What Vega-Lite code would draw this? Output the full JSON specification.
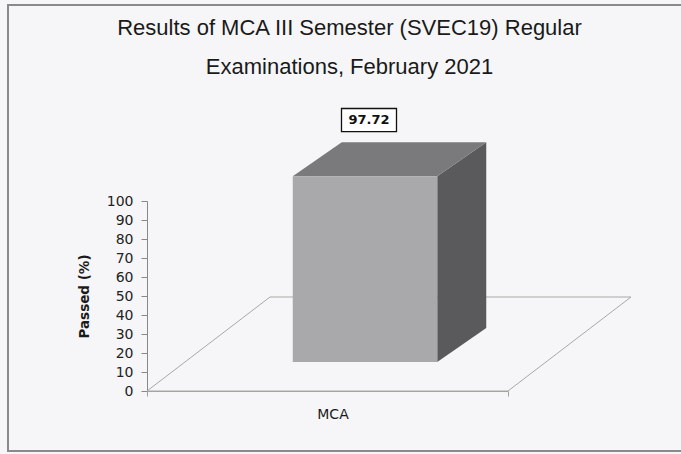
{
  "$schema": "https://vega.github.io/schema/vega-lite/v6.json",
  "width": 361,
  "height": 190,
  "autosize": {"type": "none"},
  "padding": {"left": 147, "top": 201, "right": 173, "bottom": 63},
  "background": "#f6f6f8",
  "config": {
    "view": {"stroke": null},
    "font": "Liberation Sans",
    "axisY": {
      "tickCount": 10,
      "labelOverlap": false,
      "grid": false,
      "labelFont": "DejaVu Sans",
      "labelFontSize": 14,
      "labelColor": "#222",
      "labelPadding": 8,
      "tickSize": 6,
      "tickColor": "#888",
      "domainColor": "#888",
      "titleFont": "DejaVu Sans",
      "titleFontSize": 13.5,
      "titleFontWeight": "bold",
      "titleColor": "#1a1a1a",
      "titlePadding": 15
    }
  },
  "title": {
    "text": ["Results of MCA III Semester (SVEC19) Regular", "Examinations, February 2021"],
    "font": "Liberation Sans",
    "fontSize": 22,
    "fontWeight": "normal",
    "color": "#1a1a1a",
    "lineHeight": 39,
    "anchor": "middle",
    "frame": "group",
    "dx": 22,
    "dy": 82
  },
  "data": {"values": [{"Program": "MCA", "Passed": 97.72}]},
  "encoding": {
    "x": {
      "field": "Program",
      "type": "nominal",
      "scale": {"paddingInner": 0, "paddingOuter": 0},
      "axis": {
        "title": null,
        "labelAngle": 0,
        "labelFont": "DejaVu Sans",
        "labelFontSize": 14,
        "labelColor": "#1a1a1a",
        "labelPadding": 11,
        "labelOffset": 5,
        "domainColor": "#a0a0a0",
        "tickColor": "#a0a0a0",
        "tickSize": 5,
        "tickBand": "extent"
      }
    }
  },
  "layer": [
    {
      "mark": {
        "type": "point",
        "shape": "M-3.195,-3.86 L3.585,-3.86 L3.585,0.6 L-3.195,0.6 Z",
        "size": 40000,
        "filled": false,
        "stroke": "#8a8a8a",
        "strokeWidth": 2,
        "opacity": 1
      },
      "encoding": {"y": {"datum": 0, "type": "quantitative"}}
    },
    {
      "mark": {
        "type": "point",
        "shape": "M-1.805,0 L1.805,0 L3.035,-0.94 L-0.575,-0.94 Z",
        "size": 40000,
        "filled": false,
        "stroke": "#a8a8a8",
        "strokeWidth": 1,
        "opacity": 1
      },
      "encoding": {"y": {"datum": 0, "type": "quantitative"}}
    },
    {
      "mark": {
        "type": "point",
        "shape": "M0.7225,0 L1.2125,-0.34 L1.2125,1.517 L0.7225,1.857 Z",
        "size": 40000,
        "filled": true,
        "fill": "#5a5a5c",
        "strokeWidth": 0,
        "opacity": 1,
        "xOffset": 37.5,
        "yOffset": -29
      },
      "encoding": {"y": {"field": "Passed", "type": "quantitative"}}
    },
    {
      "mark": {
        "type": "point",
        "shape": "M-0.7225,0 L0.7225,0 L1.2125,-0.34 L-0.2325,-0.34 Z",
        "size": 40000,
        "filled": true,
        "fill": "#7a7a7c",
        "strokeWidth": 0,
        "opacity": 1,
        "xOffset": 37.5,
        "yOffset": -29
      },
      "encoding": {"y": {"field": "Passed", "type": "quantitative"}}
    },
    {
      "mark": {
        "type": "bar",
        "width": 144.5,
        "color": "#a9a9ab",
        "xOffset": 37.5,
        "yOffset": -29
      },
      "encoding": {
        "y": {
          "field": "Passed",
          "type": "quantitative",
          "scale": {"domain": [0, 100], "nice": false},
          "axis": {"title": "Passed (%)"}
        }
      }
    },
    {
      "mark": {
        "type": "point",
        "shape": "M-1,-0.42 L1,-0.42 L1,0.42 L-1,0.42 Z",
        "size": 3025,
        "filled": true,
        "fill": "#ffffff",
        "stroke": "#111111",
        "strokeWidth": 1.3,
        "opacity": 1,
        "xOffset": 41.5,
        "yOffset": -85.3
      },
      "encoding": {"y": {"field": "Passed", "type": "quantitative"}}
    },
    {
      "mark": {
        "type": "text",
        "font": "DejaVu Sans",
        "fontSize": 13,
        "fontWeight": "bold",
        "color": "#111111",
        "align": "center",
        "baseline": "middle",
        "xOffset": 41.5,
        "yOffset": -85.3
      },
      "encoding": {
        "y": {"field": "Passed", "type": "quantitative"},
        "text": {"field": "Passed", "type": "quantitative", "format": ".2f"}
      }
    }
  ]
}
